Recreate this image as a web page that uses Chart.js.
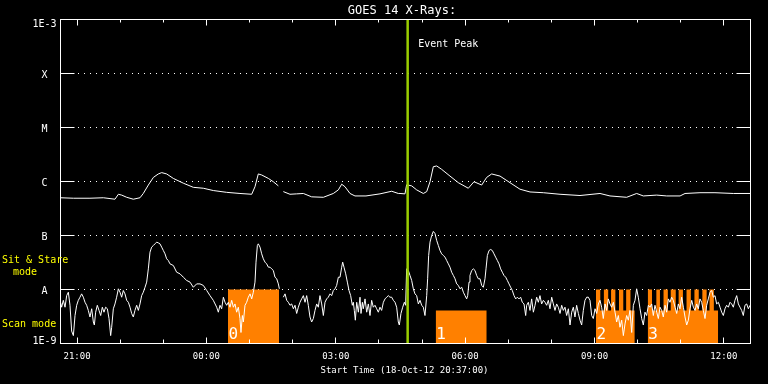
<!DOCTYPE html>
<html><head><meta charset="utf-8">
<script src="https://cdn.jsdelivr.net/npm/chart.js@4"></script>
<style>html,body{margin:0;padding:0;background:#000;overflow:hidden}canvas{display:block}</style>
</head><body><canvas id="c" width="768" height="384"></canvas>
<script>
// ---------------- data ----------------
const chartTitle = 'GOES 14 X-Rays:';
const xAxisTitle = 'Start Time (18-Oct-12 20:37:00)';
const startClock = '20:37';
const spanMinutes = 960;
const xTickLabels = ['21:00','00:00','03:00','06:00','09:00','12:00'];
const yTickValues = [1e-3,1e-4,1e-5,1e-6,1e-7,1e-8,1e-9];
const yTickLabels = ['1E-3','X','M','C','B','A','1E-9'];
const eventPeakClock = '04:40';
const eventPeakLabel = 'Event Peak';

// [minutes since start, flux W/m^2]
const longChannel = [
[0,5.0e-7],[17.9,4.9e-7],[41.0,4.9e-7],[59.6,5.0e-7],[75.8,4.7e-7],[80.5,5.8e-7],[85.1,5.6e-7],[92.1,5.1e-7],[101.3,4.7e-7],[110.6,5.0e-7],[115.2,6.0e-7],[122.2,8.6e-7],[129.2,1.19e-6],[136.1,1.38e-6],[140.8,1.46e-6],[147.7,1.38e-6],[157.0,1.14e-6],[170.9,9.3e-7],[184.8,7.8e-7],[198.7,7.5e-7],[212.6,6.8e-7],[231.2,6.3e-7],[249.7,6.0e-7],[266.0,5.8e-7],[270.6,8.0e-7],[275.2,1.38e-6],[279.9,1.32e-6],[289.2,1.14e-6],[296.1,9.9e-7],[303.1,8.3e-7],[305.5,null],[310.0,6.5e-7],[319.3,5.8e-7],[328.6,5.9e-7],[337.9,6.0e-7],[349.4,5.2e-7],[365.7,5.1e-7],[379.6,6.0e-7],[386.6,7.0e-7],[391.2,8.9e-7],[395.8,8.0e-7],[402.8,6.0e-7],[409.7,5.4e-7],[425.0,5.4e-7],[444.5,5.9e-7],[460.8,6.6e-7],[470.0,6.0e-7],[472.4,6.0e-7],[479.3,5.9e-7],[481.6,8.7e-7],[488.6,8.3e-7],[495.5,7.0e-7],[504.8,6.0e-7],[509.5,6.5e-7],[514.1,9.9e-7],[518.7,1.88e-6],[523.4,1.94e-6],[530.3,1.68e-6],[541.9,1.26e-6],[553.5,9.5e-7],[567.4,7.5e-7],[575.3,9.9e-7],[586.0,8.6e-7],[592.9,1.19e-6],[599.9,1.38e-6],[611.5,1.26e-6],[625.4,9.5e-7],[639.3,7.2e-7],[653.2,6.4e-7],[671.8,6.2e-7],[695.0,5.8e-7],[722.8,5.5e-7],[750.6,6.0e-7],[764.5,5.4e-7],[787.7,5.1e-7],[801.6,6.0e-7],[810.9,5.4e-7],[829.5,5.6e-7],[843.4,5.4e-7],[862.0,5.4e-7],[868.9,6.0e-7],[889.7,6.2e-7],[910.6,6.2e-7],[936.1,6.0e-7],[960,6.0e-7]
];

const shortChannel = [
[0,5.8e-9],[1.6,4.7e-9],[3.9,6.3e-9],[6.3,4.7e-9],[8.6,7.7e-9],[10.9,8.9e-9],[13.2,5.1e-9],[15.5,1.7e-9],[17.9,1.4e-9],[20.2,3.3e-9],[22.5,5.1e-9],[24.8,6.3e-9],[27.1,7.2e-9],[29.4,8.3e-9],[31.8,7.2e-9],[34.1,5.8e-9],[36.4,5.1e-9],[38.7,4.1e-9],[41.0,3.1e-9],[43.4,4.4e-9],[45.7,2.5e-9],[47.1,2.2e-9],[48.9,3.8e-9],[51.2,5.1e-9],[53.6,4.1e-9],[55.9,3.3e-9],[58.2,4.7e-9],[60.5,3.8e-9],[62.8,4.7e-9],[65.2,4.4e-9],[67.5,2.9e-9],[69.8,1.4e-9],[71.2,2.0e-9],[73.5,4.4e-9],[75.8,5.4e-9],[78.1,7.2e-9],[80.5,1.03e-8],[82.8,8.9e-9],[85.1,7.2e-9],[87.4,9.6e-9],[89.7,8.3e-9],[92.1,6.3e-9],[94.4,5.8e-9],[96.7,4.7e-9],[99.0,3.6e-9],[101.3,3.1e-9],[103.6,4.1e-9],[106.0,5.1e-9],[108.3,4.1e-9],[110.6,5.4e-9],[112.9,7.7e-9],[115.2,8.9e-9],[117.6,1.10e-8],[119.9,1.37e-8],[122.2,2.41e-8],[124.5,4.91e-8],[126.8,6.08e-8],[129.2,6.53e-8],[131.5,7.01e-8],[133.8,7.53e-8],[136.1,7.3e-8],[138.4,7.01e-8],[140.8,6.08e-8],[143.1,5.27e-8],[145.4,4.58e-8],[147.7,3.70e-8],[150.0,3.44e-8],[152.3,2.99e-8],[157.0,2.78e-8],[161.6,2.09e-8],[166.3,1.95e-8],[170.9,1.69e-8],[175.5,1.47e-8],[180.2,1.37e-8],[184.8,1.10e-8],[189.4,1.27e-8],
[194.1,1.27e-8],[198.7,1.19e-8],[203.4,9.6e-9],[208.0,7.7e-9],[212.6,6.3e-9],[217.3,4.7e-9],[219.6,3.8e-9],[221.9,5.1e-9],[224.2,4.4e-9],[226.6,7.2e-9],[228.9,5.8e-9],[231.2,5.1e-9],[233.5,5.8e-9],[235.8,4.7e-9],[238.2,6.3e-9],[240.5,4.7e-9],[242.8,5.4e-9],[245.1,3.8e-9],[247.4,4.7e-9],[249.7,2.9e-9],[251.1,1.6e-9],[253.0,3.3e-9],[254.4,2.5e-9],[256.7,5.1e-9],[259.0,5.8e-9],[261.3,7.2e-9],[263.7,8.3e-9],[266.0,6.7e-9],[268.3,8.9e-9],[270.6,1.37e-8],[272.0,3.21e-8],[273.9,6.53e-8],[275.2,7.01e-8],[277.6,6.08e-8],[279.9,4.58e-8],[282.2,3.70e-8],[284.5,3.21e-8],[286.8,2.99e-8],[289.2,2.59e-8],[291.5,2.59e-8],[293.8,2.41e-8],[296.1,2.25e-8],[298.4,1.69e-8],[300.8,1.58e-8],[303.1,1.27e-8],[304.5,1.03e-8],[305.5,null],
[310.0,7.2e-9],[312.4,8.3e-9],[314.7,6.3e-9],[317.0,5.8e-9],[319.3,5.1e-9],[321.6,5.4e-9],[324.0,4.4e-9],[326.3,5.1e-9],[328.6,3.6e-9],[330.9,4.7e-9],[333.2,5.8e-9],[335.5,6.7e-9],[337.9,7.7e-9],[340.2,5.8e-9],[342.5,7.7e-9],[344.8,5.1e-9],[347.1,3.1e-9],[349.4,2.5e-9],[351.8,2.9e-9],[354.1,4.1e-9],[356.4,5.4e-9],[358.7,4.7e-9],[361.0,7.7e-9],[363.4,5.4e-9],[365.7,3.3e-9],[368.0,5.8e-9],[370.3,6.7e-9],[372.6,7.2e-9],[375.0,8.3e-9],[377.3,7.7e-9],[379.6,9.6e-9],[381.9,1.03e-8],[384.2,1.19e-8],[386.6,1.69e-8],
[388.9,1.69e-8],[391.2,2.59e-8],[392.6,3.21e-8],[394.4,2.59e-8],[396.8,1.95e-8],[399.1,1.37e-8],[401.4,9.6e-9],[403.7,7.7e-9],[406.0,5.1e-9],[407.4,5.8e-9],[408.8,4.1e-9],[410.2,2.7e-9],[412.1,5.8e-9],[414.4,3.8e-9],[416.7,7.2e-9],[418.1,3.6e-9],[420.0,5.8e-9],[421.3,4.4e-9],[423.7,6.7e-9],[426.0,3.8e-9],[428.3,5.4e-9],[430.6,3.3e-9],[432.9,6.3e-9],[435.2,4.7e-9],[437.6,5.1e-9],[439.9,4.4e-9],[442.2,3.8e-9],[444.5,4.7e-9],[446.8,4.1e-9],[449.2,5.8e-9],[451.5,6.7e-9],[453.8,7.2e-9],[456.1,7.7e-9],[458.4,7.2e-9],[460.8,7.2e-9],[463.1,6.3e-9],[465.4,5.8e-9],[467.7,4.7e-9],[470.0,2.5e-9],[471.4,2.2e-9],[473.7,3.6e-9],[476.1,4.7e-9],[478.4,5.8e-9],[480.2,5.1e-9],[481.6,2.41e-8],[483.9,2.25e-8],[486.3,1.82e-8],[488.6,1.47e-8],[490.9,1.03e-8],[493.2,8.3e-9],[495.5,7.7e-9],[497.9,5.4e-9],[500.2,6.3e-9],[502.5,5.1e-9],[504.8,4.7e-9],[507.1,3.3e-9],[509.5,7.7e-9],[510.8,1.58e-8],[512.2,4.26e-8],[514.1,7.53e-8],[516.4,1.00e-7],[518.7,1.19e-7],[521.0,1.09e-7],[523.4,8.08e-8],[525.7,6.53e-8],[528.0,5.27e-8],[530.3,4.58e-8],[532.6,4.26e-8],[535.0,3.97e-8],[537.3,3.44e-8],[539.6,2.99e-8],[541.9,2.59e-8],[544.2,2.09e-8],[546.6,1.82e-8],[548.9,1.58e-8],[551.2,1.27e-8],[553.5,1.19e-8],[555.8,1.03e-8],[558.2,1.10e-8],[560.5,8.9e-9],[562.8,7.7e-9],[565.1,6.7e-9],[566.5,7.7e-9],[568.4,1.37e-8],[569.7,1.82e-8],[572.1,2.25e-8],[574.4,2.41e-8],[576.7,2.25e-8],[579.0,1.82e-8],[581.3,1.58e-8],
[583.7,1.58e-8],[586.0,1.19e-8],[588.3,1.10e-8],[590.6,1.58e-8],[592.0,2.41e-8],[593.9,4.26e-8],[596.2,5.27e-8],[598.5,5.51e-8],[600.8,5.27e-8],[603.1,4.58e-8],[605.4,3.97e-8],[607.8,3.44e-8],[610.1,2.99e-8],[612.4,2.41e-8],[614.7,2.09e-8],[617.0,1.82e-8],[619.4,1.69e-8],[621.7,1.47e-8],[624.0,1.27e-8],[626.3,1.10e-8],[628.6,9.6e-9],[631.0,7.7e-9],[633.3,6.7e-9],[635.6,7.2e-9],[637.9,6.7e-9],[640.2,7.2e-9],[642.5,5.8e-9],[644.9,5.4e-9],[647.2,3.3e-9],[648.6,5.1e-9],[650.9,5.8e-9],[653.2,4.1e-9],[655.5,6.7e-9],[657.9,3.8e-9],[660.2,5.1e-9],[662.5,7.2e-9],[664.8,5.8e-9],[667.1,7.7e-9],[669.4,5.4e-9],[671.8,6.3e-9],[674.1,5.8e-9],[676.4,5.1e-9],[678.7,6.3e-9],[681.0,4.4e-9],[683.4,7.2e-9],[685.7,5.4e-9],[688.0,4.1e-9],[690.3,5.4e-9],[692.6,4.7e-9],[695.0,3.6e-9],[697.3,5.1e-9],[699.6,4.1e-9],[701.9,4.7e-9],[704.2,3.3e-9],[706.6,4.4e-9],[708.9,2.2e-9],[711.2,3.8e-9],[713.5,4.7e-9],[715.8,3.1e-9],[718.1,5.1e-9],[720.5,3.6e-9],[722.8,2.7e-9],[725.1,2.2e-9],[727.4,4.1e-9],[729.7,6.3e-9],[732.1,7.2e-9],[734.4,7.2e-9],[736.7,6.3e-9],[739.0,3.3e-9],[741.3,2.9e-9],[743.7,4.4e-9],[746.0,3.6e-9],[748.3,5.4e-9],[750.6,6.3e-9],[752.9,4.7e-9],[755.2,2.9e-9],[757.6,5.4e-9],[759.9,4.1e-9],[762.2,6.7e-9],
[764.5,5.4e-9],[766.8,4.7e-9],[769.2,5.8e-9],[771.5,3.8e-9],[773.8,2.5e-9],[776.1,3.3e-9],[778.4,2.0e-9],[780.8,2.7e-9],[783.1,1.4e-9],[785.4,2.3e-9],[787.7,3.3e-9],[790.0,2.7e-9],[792.3,4.1e-9],[794.7,1.6e-9],[797.0,5.1e-9],[799.3,6.3e-9],[801.6,1.03e-8],[803.9,7.2e-9],[806.3,4.4e-9],[808.6,2.9e-9],[810.9,2.2e-9],[813.2,3.8e-9],[815.5,3.3e-9],[817.9,5.1e-9],[820.2,4.7e-9],[822.5,5.4e-9],[824.8,3.3e-9],[827.1,5.1e-9],[829.5,3.8e-9],[831.8,2.9e-9],[834.1,4.7e-9],[836.4,4.1e-9],[838.7,3.1e-9],[841.1,5.1e-9],[843.4,3.8e-9],[845.7,6.7e-9],[848.0,5.8e-9],[850.3,7.2e-9],[852.6,6.3e-9],[855.0,4.7e-9],[857.3,3.6e-9],[859.6,5.4e-9],[861.9,4.4e-9],[864.2,7.2e-9],[866.6,4.7e-9],[868.9,3.1e-9],[871.2,2.2e-9],[873.5,2.7e-9],[875.8,4.4e-9],[878.2,6.3e-9],[880.5,4.7e-9],[882.8,4.1e-9],[885.1,5.4e-9],[887.4,4.4e-9],[889.7,6.7e-9],[892.1,5.8e-9],[894.4,4.1e-9],[896.7,2.9e-9],[899.0,5.1e-9],[901.3,6.7e-9],[903.7,8.9e-9],[906.0,9.6e-9],[908.3,7.2e-9],[910.6,7.7e-9],[912.9,5.4e-9],[915.3,5.8e-9],[917.6,4.7e-9],[919.9,3.8e-9],[922.2,3.3e-9],[924.5,4.4e-9],[926.8,5.1e-9],[929.2,4.7e-9],[931.5,5.8e-9],[933.8,5.4e-9],[936.1,4.7e-9],[938.4,6.3e-9],[940.8,7.7e-9],[943.1,5.4e-9],[945.4,4.7e-9],[947.7,4.1e-9],[950.0,3.3e-9],[952.3,5.1e-9],[954.7,5.4e-9],[957.0,4.4e-9],[959.3,5.1e-9]
];

// observing-mode timeline: S = sit & stare, C = scan, - = off
const modeTimes = ['00:30','01:41','05:19','06:30',
 '09:02','09:08','09:13','09:19','09:23','09:29','09:34','09:40','09:44','09:50','09:56',
 '10:14','10:20','10:26','10:31','10:36','10:42','10:46','10:53','10:57','11:03','11:08','11:14','11:19','11:25','11:30','11:36','11:40','11:46','11:52'];
const modeKinds = ['S','-','C','-',
 'S','C','S','C','S','C','S','C','S','C','-',
 'S','C','S','C','S','C','S','C','S','C','S','C','S','C','S','C','S','C','-'];
const modeLevel = {S: 1e-8, C: 4.1e-9};
const modeLabels = ['Sit & Stare', 'mode', 'Scan mode'];

// ---------------- helpers ----------------
function clockToMin(s){
  const [h,m] = s.split(':').map(Number);
  const [h0,m0] = startClock.split(':').map(Number);
  let d = h*60+m - (h0*60+m0);
  if (d < 0) d += 1440;
  return d;
}
const toPts = arr => arr.map(p => ({x:p[0], y:p[1]}));

// step outline of the mode timeline (corners at each change)
const modePts = [];
const blockStarts = [];
let prev = '-';
modeTimes.forEach((tc,i) => {
  const t = clockToMin(tc), k = modeKinds[i];
  if (prev !== '-') modePts.push({x:t, y:modeLevel[prev]});
  if (k === '-') {
    modePts.push({x:t, y:null});
  } else {
    if (prev === '-') blockStarts.push(t);
    modePts.push({x:t, y:modeLevel[k]});
  }
  prev = k;
});
const eventT = clockToMin(eventPeakClock);

const MONO = '"DejaVu Sans Mono", monospace';

const decor = {
  id: 'decor',
  beforeDraw(chart){
    const c = chart.ctx;
    c.save(); c.fillStyle = '#000'; c.fillRect(0,0,chart.width,chart.height); c.restore();
  },
  beforeDatasetsDraw(chart){
    const c = chart.ctx, a = chart.chartArea, ys = chart.scales.y;
    c.save();
    c.strokeStyle = '#fff'; c.lineWidth = 1;
    c.setLineDash([1,5]);
    yTickValues.forEach(v => {
      if (v === 1e-3 || v === 1e-9) return;
      const y = Math.round(ys.getPixelForValue(v) - 0.5) + 0.5;
      c.beginPath(); c.moveTo(a.left + 17.5, y); c.lineTo(a.right - 14, y); c.stroke();
    });
    c.restore();
  },
  afterDatasetsDraw(chart){
    const c = chart.ctx, a = chart.chartArea, xs = chart.scales.x, ys = chart.scales.y;
    c.save();
    c.strokeStyle = '#fff'; c.lineWidth = 1;
    c.strokeRect(a.left, a.top, a.right - a.left, a.bottom - a.top);
    yTickValues.forEach(v => {
      const y = Math.round(ys.getPixelForValue(v) - 0.5) + 0.5;
      c.beginPath();
      c.moveTo(a.left, y); c.lineTo(a.left + 14, y);
      c.moveTo(a.right - 14, y); c.lineTo(a.right, y);
      c.stroke();
    });
    const majors = xTickLabels.map(clockToMin);
    for (let t = clockToMin('21:00'); t <= spanMinutes; t += 60) {
      const x = Math.round(xs.getPixelForValue(t) - 0.5) + 0.5;
      const major = majors.includes(t);
      c.beginPath();
      c.moveTo(x, a.top); c.lineTo(x, a.top + (major ? 6 : 3));
      c.moveTo(x, a.bottom); c.lineTo(x, a.bottom - (major ? 6 : 4));
      c.stroke();
    }
    c.fillStyle = '#fff';
    c.textAlign = 'center'; c.textBaseline = 'alphabetic';
    c.font = '12px ' + MONO;
    c.fillText(chartTitle, 402, 13.5);
    c.font = '9px ' + MONO;
    xTickLabels.forEach(l => c.fillText(l, xs.getPixelForValue(clockToMin(l)), 358.5));
    c.fillText(xAxisTitle, 404.5, 372.5);
    c.font = '10px ' + MONO;
    yTickValues.forEach((v,i) => {
      let y = ys.getPixelForValue(v) + 4;
      if (i === 0) y = a.top + 7.5;
      if (i === yTickValues.length - 1) y = a.bottom;
      c.fillText(yTickLabels[i], 44.5, y);
    });
    c.textAlign = 'left';
    c.fillText(eventPeakLabel, xs.getPixelForValue(eventT) + 10.5, 46.5);
    c.fillStyle = '#ffff00';
    c.fillText(modeLabels[0], 2, 263.3);
    c.fillText(modeLabels[1], 13, 275);
    c.fillText(modeLabels[2], 2, 327.3);
    c.fillStyle = '#fff';
    c.font = '16px ' + MONO;
    blockStarts.forEach((t,i) => c.fillText(String(i), xs.getPixelForValue(t) + 0.5, 338.5));
    c.restore();
  }
};

new Chart(document.getElementById('c'), {
  type: 'line',
  data: { datasets: [
    { label: 'Event Peak', data: [{x:eventT, y:1e-9},{x:eventT, y:1e-3}], borderColor: '#9acd00', borderWidth: 2.5, pointRadius: 0, order: 0 },
    { label: '1-8 A', data: toPts(longChannel), borderColor: '#fff', borderWidth: 1, pointRadius: 0, spanGaps: false, order: 1 },
    { label: '0.5-4 A', data: toPts(shortChannel), borderColor: '#fff', borderWidth: 1, pointRadius: 0, spanGaps: false, order: 2 },
    { label: 'Mode', data: modePts, borderWidth: 0, borderColor: 'rgba(0,0,0,0)', backgroundColor: '#ff8000', fill: 'start', pointRadius: 0, spanGaps: false, order: 3 }
  ]},
  options: {
    responsive: false, animation: false, devicePixelRatio: 1,
    layout: { padding: { left: 60.5, right: 17.5, top: 19.5, bottom: 40.5 } },
    plugins: { legend: {display:false}, tooltip: {enabled:false}, title: {display:false} },
    elements: { line: { tension: 0 } },
    scales: {
      x: { type: 'linear', min: 0, max: spanMinutes, display: false },
      y: { type: 'logarithmic', min: 1e-9, max: 1e-3, display: false }
    }
  },
  plugins: [decor]
});
</script>
</body></html>
